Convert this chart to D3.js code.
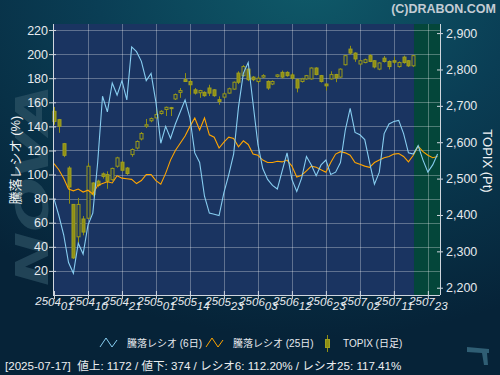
<!DOCTYPE html>
<html><head><meta charset="utf-8">
<script src="https://cdn.jsdelivr.net/npm/d3@7"></script>
<style>html,body{margin:0;padding:0;background:#072538;overflow:hidden}</style>
</head><body>
<svg id="c" width="500" height="375"></svg>
<script>
// ---- data ----
const dates = [
"25/04/01","25/04/02","25/04/03","25/04/04","25/04/07","25/04/08","25/04/09","25/04/10","25/04/11","25/04/14",
"25/04/15","25/04/16","25/04/17","25/04/18","25/04/21","25/04/22","25/04/23","25/04/24","25/04/25","25/04/28",
"25/04/30","25/05/01","25/05/02","25/05/07","25/05/08","25/05/09","25/05/12","25/05/13","25/05/14","25/05/15",
"25/05/16","25/05/19","25/05/20","25/05/21","25/05/22","25/05/23","25/05/26","25/05/27","25/05/28","25/05/29",
"25/05/30","25/06/02","25/06/03","25/06/04","25/06/05","25/06/06","25/06/09","25/06/10","25/06/11","25/06/12",
"25/06/13","25/06/16","25/06/17","25/06/18","25/06/19","25/06/20","25/06/23","25/06/24","25/06/25","25/06/26",
"25/06/27","25/06/30","25/07/01","25/07/02","25/07/03","25/07/04","25/07/07","25/07/08","25/07/09","25/07/10",
"25/07/11","25/07/14","25/07/15","25/07/16","25/07/17","25/07/18","25/07/22","25/07/23","25/07/24","25/07/25"];

const topixOpen = [2685,2662,2596,2529,2429, 2340,2389,2391,2488,2493, 2513,2511,2497,2534,2545, 2529,2566,2584,2609,2644,
 2659,2667,2679,2690,2695, 2719,2737,2772,2767,2744, 2736,2737,2749,2744,2717, 2724,2735,2746,2790,2783,
 2801,2779,2767,2779,2767, 2760,2781,2792,2792,2785, 2772,2767,2774,2774,2804, 2783,2760,2774,2786,2779,
 2813,2856,2845,2815,2819, 2838,2824,2801,2831,2822, 2824,2808,2834,2824,2810];
const topixClose = [2657,2644,2564,2477,2282, 2429,2353,2534,2456,2481, 2506,2493,2528,2557,2523, 2514,2580,2602,2624,2648,
 2665,2676,2685,2696,2693, 2731,2742,2767,2758,2735, 2742,2728,2735,2728,2712, 2733,2747,2765,2765,2808,
 2772,2772,2776,2783,2749, 2767,2785,2779,2783,2776, 2749,2774,2783,2804,2786, 2767,2755,2786,2777,2801,
 2838,2845,2829,2824,2827, 2822,2807,2818,2822,2808, 2820,2819,2819,2810,2838];
const topixHigh = [2697,2664,2598,2534,2430, 2447,2397,2543,2490,2497, 2517,2520,2530,2560,2548, 2532,2583,2605,2628,2664,
 2668,2697,2688,2698,2697, 2734,2749,2790,2772,2749, 2744,2740,2758,2746,2726, 2737,2750,2767,2795,2812,
 2803,2782,2781,2787,2770, 2770,2787,2797,2795,2790, 2775,2777,2785,2806,2806, 2785,2762,2795,2788,2803,
 2840,2865,2847,2826,2830, 2842,2826,2820,2837,2825, 2835,2822,2838,2826,2840];
const topixLow = [2648,2626,2559,2431,2279, 2323,2344,2390,2451,2476, 2500,2472,2494,2530,2520, 2510,2560,2580,2605,2639,
 2655,2665,2676,2672,2672, 2716,2722,2767,2731,2731, 2722,2725,2727,2725,2703, 2720,2733,2744,2760,2780,
 2768,2768,2762,2776,2744, 2757,2778,2775,2780,2772, 2737,2764,2772,2772,2784, 2764,2742,2772,2765,2777,
 2811,2841,2821,2811,2817, 2820,2803,2798,2819,2800, 2815,2805,2816,2807,2807];

const ratio6 = [80,66,50,27,18,43,34,58,68,110,
 165,152,176,166,178,162,206,202,194,178,
 184,160,126,140,130,142,152,162,147,118,
 110,82,68,67,66,85,100,117,156,184,
 193,159,125,105,96,91,88,103,118,96,
 86,97,115,108,99,108,112,100,102,110,
 137,155,135,133,129,110,92,102,134,142,
 144,145,134,118,117,124,112,102,108,117];
const ratio25 = [109,104,97,88,86.5,88,85.5,87,84,91,
 92.5,94,93,99,97,96.5,96,92.5,95,100,
 100,95,92,101,112,120,126,132,140,147,
 137,147,133,131,122,127,131,130,123,128,
 125,117,116,112,110,110,111,110.5,112,107,
 98,99.5,103,107,106,104,102,110,117,119,
 118,116,110,108.5,107,106,110,112,114,115,
 117,117.5,115,110.5,116,123.5,119,116,114,115];

const leftTicks = [20,40,60,80,100,120,140,160,180,200,220];
const rightTicks = [2200,2300,2400,2500,2600,2700,2800,2900];
const xTickIdx = [0,7,14,21,28,35,42,49,56,63,70,77];
const legendLabels = ["騰落レシオ (6日)","騰落レシオ (25日)","TOPIX (日足)"];
const statusText = "[2025-07-17]  値上: 1172 / 値下: 374 / レシオ6: 112.20% / レシオ25: 117.41%";
const lastDataIdx = 74;

// ---- layout ----
const L=53,R=440,T=24,B=295;
const svg = d3.select('#c');
const x = d3.scaleLinear().domain([-0.2,79.5]).range([L,R]);
const yL = d3.scaleLinear().domain([0,225]).range([B,T]);
const yR = d3.scaleLinear().domain([2180,2925]).range([B,T]);
const FONT = "'Liberation Sans','Noto Sans CJK JP',sans-serif";

const defs = svg.append('defs');
const rg = defs.append('radialGradient').attr('id','bg').attr('cx','62%').attr('cy','-5%').attr('r','95%');
rg.append('stop').attr('offset','0%').attr('stop-color','#0f5a69');
rg.append('stop').attr('offset','45%').attr('stop-color','#0a3e55');
rg.append('stop').attr('offset','100%').attr('stop-color','#062338');
svg.append('rect').attr('width',500).attr('height',375).attr('fill','url(#bg)');

// watermark
svg.append('text').attr('transform','translate(48,286) rotate(-90)')
  .attr('font-family',"'DejaVu Sans',sans-serif").attr('font-weight','bold').attr('font-style','italic')
  .attr('font-size',44).attr('textLength',202).attr('lengthAdjust','spacingAndGlyphs')
  .attr('fill','#33596b').attr('opacity',0.6).text('NOVA');

// plot background
svg.append('rect').attr('x',L).attr('y',T).attr('width',R-L).attr('height',B-T).attr('fill','#1a3461');
const gx0 = x(lastDataIdx)+0.7;
svg.append('rect').attr('x',gx0).attr('y',T).attr('width',R-gx0).attr('height',B-T).attr('fill','#04463a');

// grid
const grid = svg.append('g').attr('stroke','rgba(255,255,255,0.3)').attr('stroke-width',1);
grid.selectAll('.h').data(leftTicks).join('line')
  .attr('x1',L).attr('x2',R).attr('y1',d=>Math.round(yL(d))+0.5).attr('y2',d=>Math.round(yL(d))+0.5);
grid.selectAll('.v').data(xTickIdx.slice(1)).join('line')
  .attr('y1',T).attr('y2',B).attr('x1',d=>Math.round(x(d))+0.5).attr('x2',d=>Math.round(x(d))+0.5);

// candles
const olive = '#8f8f14';
const cg = svg.append('g');
topixOpen.forEach((o,i)=>{
  const c=topixClose[i], h=topixHigh[i], l=topixLow[i];
  const cx = Math.round(x(i))+0.5;
  cg.append('line').attr('x1',cx).attr('x2',cx).attr('y1',yR(h)).attr('y2',yR(l)).attr('stroke',olive).attr('stroke-width',1);
  const top = yR(Math.max(o,c)), bot = yR(Math.min(o,c));
  const up = c>=o;
  cg.append('rect').attr('x',cx-1.5).attr('y',top).attr('width',3).attr('height',Math.max(1,bot-top))
    .attr('fill', up ? '#1a3461' : olive).attr('stroke', up ? '#9a9a18' : '#a0a020').attr('stroke-width',1);
});

// lines
const line = d3.line().x((d,i)=>x(i)).y(d=>yL(d));
svg.append('path').datum(ratio25).attr('d',line).attr('fill','none').attr('stroke','#ffa500').attr('stroke-width',1.1);
svg.append('path').datum(ratio6).attr('d',line).attr('fill','none').attr('stroke','#87cdf0').attr('stroke-width',1.1);

// axes
const axCol = '#d0d6de';
const gl = svg.append('g').attr('transform',`translate(${L},0)`)
  .call(d3.axisLeft(yL).tickValues(leftTicks).tickSize(4).tickSizeOuter(0).tickPadding(1));
gl.select('.domain').attr('stroke',axCol).attr('d',`M0.5,${T}V${B}`);
gl.selectAll('.tick line').attr('stroke',axCol).attr('x1',3);
gl.selectAll('.tick text').attr('fill','#e6eaee').attr('font-family',FONT).attr('font-size',12.5);

const gr = svg.append('g').attr('transform',`translate(${R},0)`)
  .call(d3.axisRight(yR).tickValues(rightTicks).tickSize(3).tickSizeOuter(0).tickPadding(3).tickFormat(d3.format(',')));
gr.select('.domain').attr('stroke',axCol).attr('d',`M0.5,${T}V${B}`);
gr.selectAll('.tick line').attr('stroke',axCol).attr('x1',-3);
gr.selectAll('.tick text').attr('fill','#e6eaee').attr('font-family',FONT).attr('font-size',12.5);

const gb = svg.append('g').attr('transform',`translate(0,${B})`)
  .call(d3.axisBottom(x).tickValues(xTickIdx).tickSize(4).tickSizeOuter(0).tickFormat(''));
gb.select('.domain').attr('stroke',axCol).attr('d',`M${L},0.5H${R}`);
gb.selectAll('.tick line').attr('stroke',axCol).attr('y1',-4);
gb.selectAll('.tick').each(function(d){
  const p = dates[d].split('/');
  const t = d3.select(this).append('text').attr('fill','#e6eaee').attr('font-family',FONT)
    .attr('font-size',11.5).attr('text-anchor','middle').attr('font-style','italic').attr('y',9.5);
  t.append('tspan').text(p[0]);
  t.append('tspan').attr('dy',1.5).text(p[1]);
  t.append('tspan').attr('dy',3.5).text(p[2]);
});

// axis titles
svg.append('text').attr('transform','translate(20,160) rotate(-90)').attr('text-anchor','middle')
  .attr('font-family',FONT).attr('font-size',13).attr('fill','#f0f2f4').text('騰落レシオ (%)');
svg.append('text').attr('transform','translate(483,161) rotate(90)').attr('text-anchor','middle')
  .attr('font-family',FONT).attr('font-size',13).attr('fill','#f0f2f4').text('TOPIX (Pt)');

// copyright
svg.append('text').attr('x',496).attr('y',12.5).attr('text-anchor','end').attr('font-family',FONT)
  .attr('font-weight','bold').attr('font-size',12.5).attr('fill','#c4ccd4').text('(C)DRABON.COM');

// legend
const lg = svg.append('g').attr('font-family',FONT).attr('font-size',10).attr('fill','#e6eaee');
lg.append('path').attr('d','M100,347L106,338L112,347L117,340').attr('fill','none').attr('stroke','#87cdf0');
lg.append('text').attr('x',127).attr('y',347).text(legendLabels[0]);
lg.append('path').attr('d','M206,347L212,338L218,347L223,340').attr('fill','none').attr('stroke','#ffa500');
lg.append('text').attr('x',233).attr('y',347).text(legendLabels[1]);
lg.append('line').attr('x1',327.5).attr('x2',327.5).attr('y1',335).attr('y2',352).attr('stroke',olive);
lg.append('rect').attr('x',325.5).attr('y',339.5).attr('width',4).attr('height',8).attr('fill',olive).attr('stroke','#a0a020');
lg.append('text').attr('x',343).attr('y',347).text(legendLabels[2]);

// status
svg.append('text').attr('x',5).attr('y',369.5).attr('font-family',FONT).attr('font-size',11.6)
  .attr('fill','#eceef0').style('white-space','pre').text(statusText);

// corner mark
svg.append('path').attr('d','M467,347L489,349L489,353L487,353L488,365L484,365L482,353L467,352Z').attr('fill','#2f5e74');
</script>
</body></html>
